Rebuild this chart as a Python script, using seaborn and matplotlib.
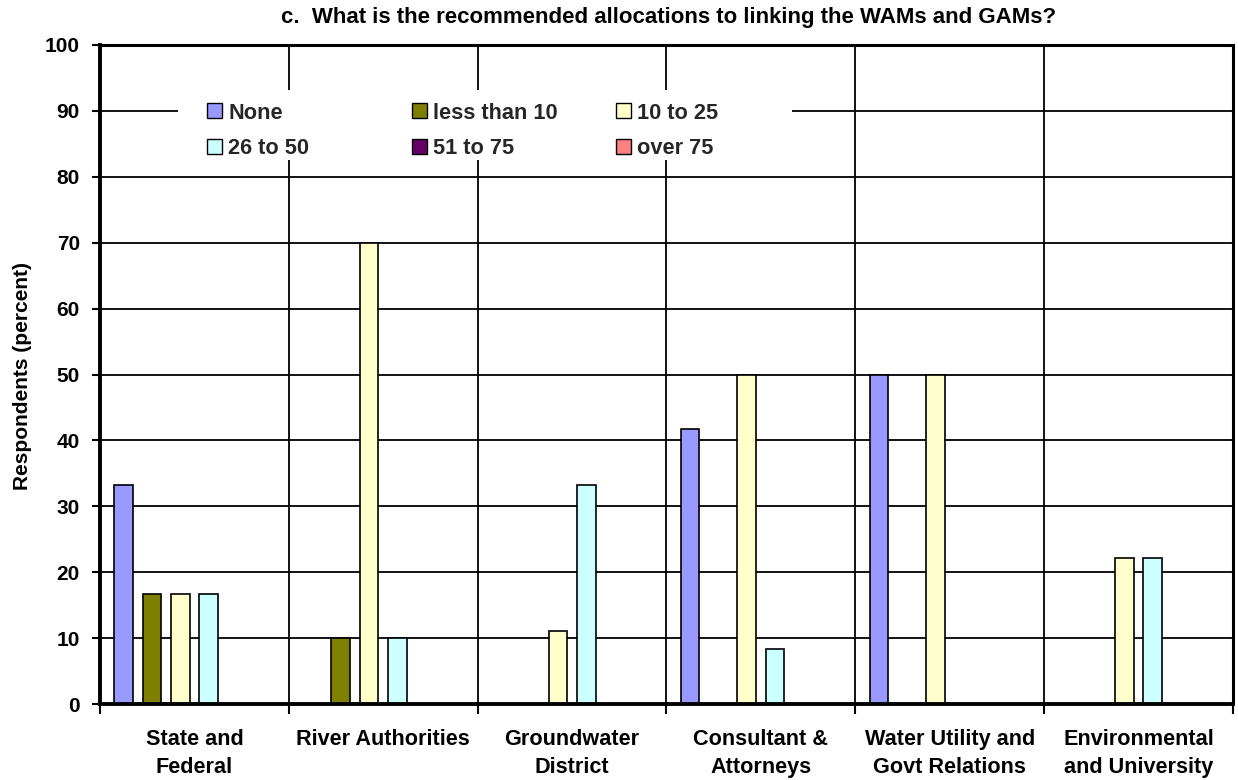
import matplotlib
matplotlib.use("Agg")
import matplotlib.pyplot as plt
from matplotlib.patches import Patch, Rectangle
import numpy as np
import pandas as pd
import seaborn as sns

# Respondent groups (x axis)
categories = [
    "State and\nFederal",
    "River Authorities",
    "Groundwater\nDistrict",
    "Consultant &\nAttorneys",
    "Water Utility and\nGovt Relations",
    "Environmental\nand University",
]
# Recommended allocation brackets (hue)
series = ["None", "less than 10", "10 to 25", "26 to 50", "51 to 75", "over 75"]

# Percent of respondents per bracket, one list per bracket
pct_none = [33.3, 0, 0, 41.7, 50, 0]
pct_lt10 = [16.7, 10, 0, 0, 0, 0]
pct_10_25 = [16.7, 70, 11.1, 50, 50, 22.2]
pct_26_50 = [16.7, 10, 33.3, 8.3, 0, 22.2]
pct_51_75 = [0, 0, 0, 0, 0, 0]
pct_over75 = [0, 0, 0, 0, 0, 0]

colors = ["#9999FF", "#808000", "#FFFFCC", "#CCFFFF", "#660066", "#FF8080"]
yticks = list(range(0, 101, 10))

title = "c.  What is the recommended allocations to linking the WAMs and GAMs?"
ylabel = "Respondents (percent)"

values = [pct_none, pct_lt10, pct_10_25, pct_26_50, pct_51_75, pct_over75]
rows = []
for s, vals in zip(series, values):
    for c, v in zip(categories, vals):
        rows.append({"group": c, "bracket": s, "pct": v})
df = pd.DataFrame(rows)

sns.set_theme(style="white")
plt.rcParams["font.family"] = ["Liberation Sans", "DejaVu Sans"]
plt.rcParams["font.weight"] = "bold"

fig = plt.figure(figsize=(12.38, 7.8), dpi=100)
ax = fig.add_axes([100 / 1238, 76 / 780, 1133 / 1238, 659 / 780])

palette = dict(zip(series, colors))
sns.barplot(
    data=df, x="group", y="pct", hue="bracket",
    order=categories, hue_order=series, palette=palette,
    saturation=1, width=0.90, gap=0.345,
    edgecolor="black", linewidth=1.2, legend=False, ax=ax, zorder=2,
)

ax.set_xlim(-0.5, len(categories) - 0.5)
ax.set_ylim(0, 100)
ax.set_yticks(yticks)
ax.set_xticks(range(len(categories)))
ax.set_xticks(np.arange(-0.5, len(categories), 1.0), minor=True)
ax.set_xticklabels(categories, fontsize=15.6, fontweight="bold", linespacing=1.45)
ax.set_yticklabels([str(t) for t in yticks], fontsize=15, fontweight="bold")

ax.tick_params(axis="x", which="major", length=0, pad=18, colors="black")
ax.tick_params(axis="x", which="minor", length=7, width=1.5, direction="out",
               bottom=True, color="black")
ax.tick_params(axis="y", which="major", length=5.5, width=1.5, direction="out",
               left=True, pad=9, colors="black")

ax.set_axisbelow(True)
ax.yaxis.grid(True, color="black", linewidth=1.3)
ax.xaxis.grid(True, which="minor", color="black", linewidth=1.3)
ax.xaxis.grid(False, which="major")

for side, lw in [("left", 2.8), ("bottom", 2.8), ("top", 2.2), ("right", 2.2)]:
    ax.spines[side].set_visible(True)
    ax.spines[side].set_color("black")
    ax.spines[side].set_linewidth(lw)

ax.set_xlabel("")
ax.set_ylabel(ylabel, fontsize=15, fontweight="bold", color="black")
ax.yaxis.set_label_coords(-0.060, 0.498)

# White panel behind the legend entries
ax.add_patch(Rectangle((0.069, 0.825), 0.542, 0.107, transform=ax.transAxes,
                       facecolor="white", edgecolor="none", zorder=1.5))

handles = [Patch(facecolor=c, edgecolor="black", linewidth=1.0) for c in colors]
col_x = [0.0944, 0.2754, 0.4554]
for i, x0 in enumerate(col_x):
    leg = ax.legend(
        [handles[i], handles[i + 3]], [series[i], series[i + 3]],
        loc="upper left", bbox_to_anchor=(x0, 0.9127), ncol=1,
        frameon=False, borderpad=0, borderaxespad=0,
        handlelength=0.7, handleheight=0.68, handletextpad=0.28,
        labelspacing=0.66, prop={"size": 15.7, "weight": "bold"},
    )
    leg.set_zorder(5)
    if i < len(col_x) - 1:
        ax.add_artist(leg)

fig.text(0.5404, 1 - 17 / 780, title, ha="center", va="center",
         fontsize=16, fontweight="bold", color="black")

fig.savefig("out.png", dpi=100, facecolor="white")
